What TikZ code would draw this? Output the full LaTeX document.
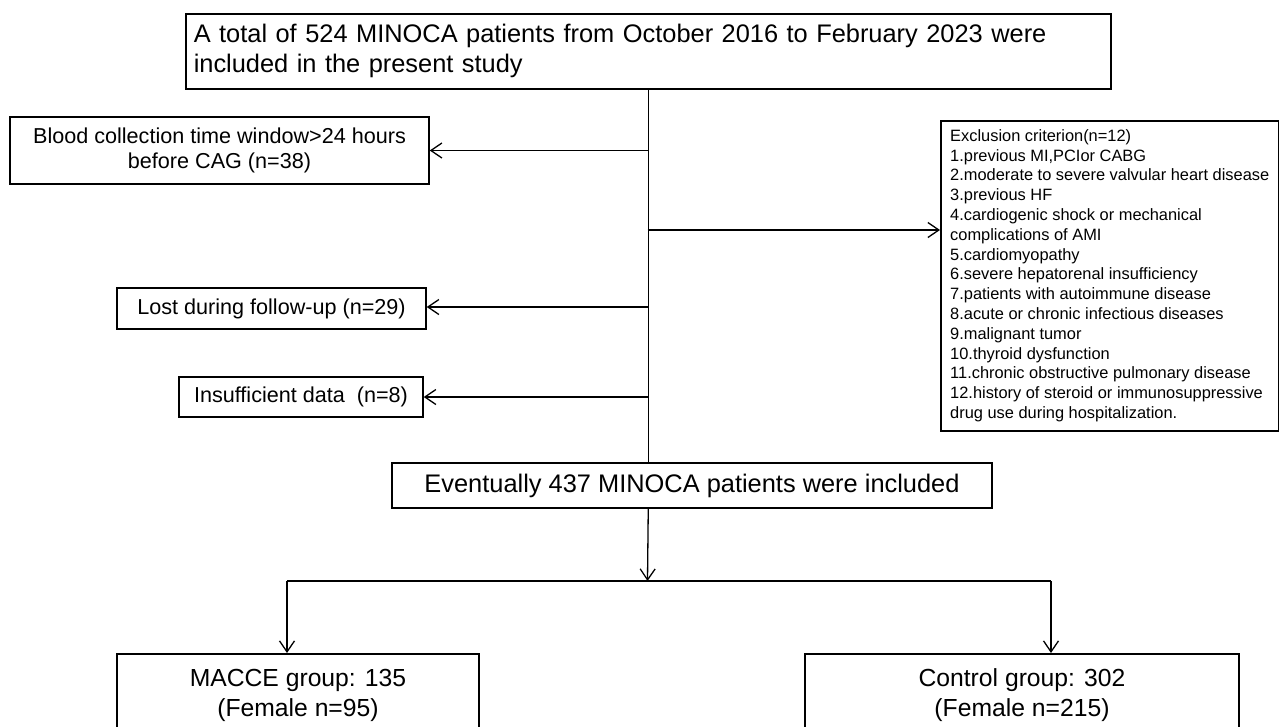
\documentclass[tikz,border=0pt]{standalone}
\usepackage{fontspec}
\setmainfont{Liberation Sans}
\usetikzlibrary{arrows.meta}
\newcommand{\fbig}{\fontsize{25.4}{30}\selectfont}
\newcommand{\fgrp}{\fontsize{24.7}{30}\selectfont}
\newcommand{\fmid}{\fontsize{21.6}{25}\selectfont}
\newcommand{\fsmall}{\fontsize{16.4}{19.8}\selectfont}
\begin{document}
\begin{tikzpicture}[x=1pt,y=-1pt,box/.style={draw,line width=1.5pt,inner sep=0pt,align=center},arr/.style={-{Straight Barb[length=11pt,width=15pt]},line width=1.3pt}]
\useasboundingbox(0,0)rectangle(1279,726);
\fill[white](0,0)rectangle(1279,726);
\clip(0,0)rectangle(1279,726);
\node[box,anchor=north west,minimum width=925pt,minimum height=75pt,inner xsep=8pt,text width=909pt,align=left,font=\fbig](total)at(185,13){A total of 524 MINOCA patients from October 2016 to February 2023 were\\included in the present study};
\node[box,minimum width=419pt,minimum height=67pt,font=\fmid](blood)at(219.5,150.5){Blood collection time window>24 hours\\before CAG (n=38)};
\node[box,anchor=north west,minimum width=338pt,minimum height=310pt,align=left,font=\fsmall](excl)at(940,120){Exclusion criterion(n=12)\\1.previous MI,PCIor CABG\\2.moderate to severe valvular heart disease\\3.previous HF\\4.cardiogenic shock or mechanical\\complications of AMI\\5.cardiomyopathy\\6.severe hepatorenal insufficiency\\7.patients with autoimmune disease\\8.acute or chronic infectious diseases\\9.malignant tumor\\10.thyroid dysfunction\\11.chronic obstructive pulmonary disease\\12.history of steroid or immunosuppressive\\drug use during hospitalization.};
\node[box,minimum width=309pt,minimum height=41pt,font=\fmid](lost)at(271.5,308.5){Lost during follow-up (n=29)};
\node[box,minimum width=244pt,minimum height=40pt,font=\fmid](insuf)at(301,397){Insufficient data\ \ (n=8)};
\node[box,minimum width=600pt,minimum height=45pt,font=\fbig](evt)at(692,485.5){Eventually 437 MINOCA patients were included};
\node[box,anchor=north,minimum width=362pt,inner ysep=15pt,font=\fgrp](macce)at(298,653){MACCE group: 135\\(Female n=95)};
\node[box,anchor=north,minimum width=434pt,inner ysep=15pt,font=\fgrp](ctrl)at(1022,653){Control group: 302\\(Female n=215)};
\coordinate(jb)at(647.5,150.5);\coordinate(je)at(647.5,230);\coordinate(jl)at(647.5,307);\coordinate(ji)at(647.5,397);
\coordinate(split)at(647.5,581);\coordinate(sl)at(287,581);\coordinate(sr)at(1051,581);
\draw[line width=1.3pt](total.south)--(total.south|-evt.north);
\draw[arr](jb)--(jb-|blood.east);\draw[arr](je)--(je-|excl.west);\draw[arr](jl)--(jl-|lost.east);\draw[arr](ji)--(ji-|insuf.east);
\draw[arr](total.south|-evt.south)--(split);\draw[line width=1.3pt](sl)--(sr);
\draw[arr](sl)--(sl|-macce.north);\draw[arr](sr)--(sr|-ctrl.north);
\end{tikzpicture}
\end{document}
